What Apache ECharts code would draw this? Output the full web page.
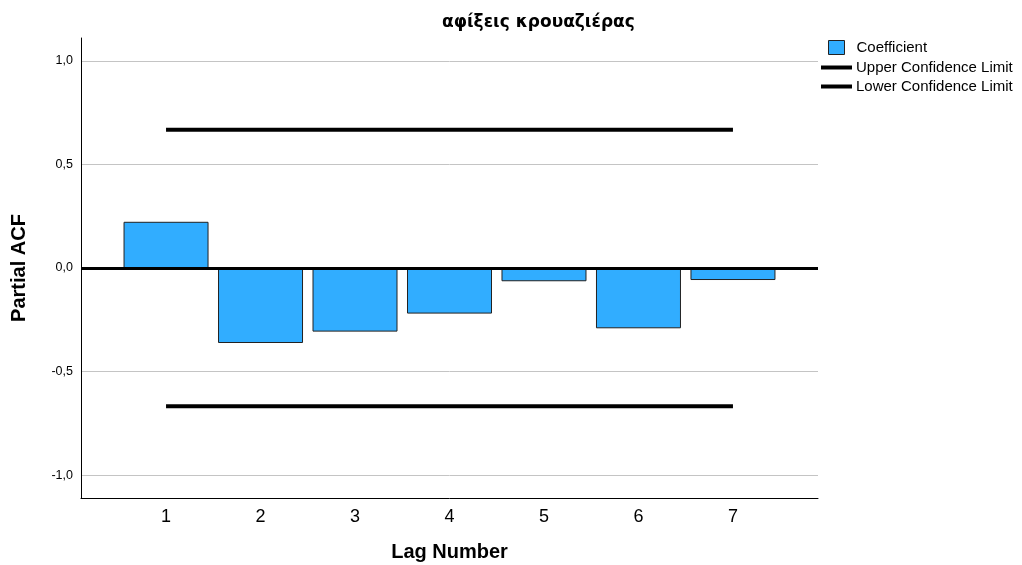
<!DOCTYPE html>
<html>
<head>
<meta charset="utf-8">
<script src="https://cdn.jsdelivr.net/npm/echarts@6/dist/echarts.min.js"></script>
<style>
  html, body { margin: 0; padding: 0; background: #fff; }
  #chart { width: 1022px; height: 565px; }
</style>
</head>
<body>
<div id="chart"></div>
<script>
// lag numbers and partial autocorrelation coefficients
const lags = [1, 2, 3, 4, 5, 6, 7];
const coefficients = [0.223, -0.362, -0.307, -0.220, -0.064, -0.291, -0.058];
const upperLimit = [0.667, 0.667];
const lowerLimit = [-0.667, -0.667];
const limitLags = [1, 7];
const yTicks = [-1, -0.5, 0, 0.5, 1];

const chart = echarts.init(document.getElementById('chart'));
const font = '"Liberation Sans", Arial, sans-serif';

const option = {
  animation: false,
  title: {
    text: 'αφίξεις κρουαζιέρας',
    left: 442,
    top: 14,
    padding: 0,
    textStyle: { fontFamily: '"DejaVu Sans", sans-serif', fontSize: 17, fontWeight: 'bold', color: '#000' }
  },
  legend: [
    {
      data: [{ name: 'Coefficient', icon: 'rect' }],
      left: 828, top: 40, padding: 0,
      itemWidth: 16, itemHeight: 14,
      itemStyle: { borderColor: '#222', borderWidth: 1 },
      textStyle: { fontFamily: font, fontSize: 15, color: '#000', padding: [0, 0, 0, 7] }
    },
    {
      data: [{ name: 'Upper Confidence Limit', icon: 'rect' }],
      left: 821, top: 60, padding: 0,
      itemWidth: 31, itemHeight: 4,
      textStyle: { fontFamily: font, fontSize: 15, color: '#000', padding: [0, 0, 0, -1] }
    },
    {
      data: [{ name: 'Lower Confidence Limit', icon: 'rect' }],
      left: 821, top: 79, padding: 0,
      itemWidth: 31, itemHeight: 4,
      textStyle: { fontFamily: font, fontSize: 15, color: '#000', padding: [0, 0, 0, -1] }
    }
  ],
  grid: { left: 81, right: 204, top: 38, bottom: 67, outerBoundsMode: 'none' },
  xAxis: {
    type: 'value',
    min: 0.1,
    max: 7.9,
    name: 'Lag Number',
    nameLocation: 'middle',
    nameGap: 44,
    nameTextStyle: { fontFamily: font, fontSize: 20, fontWeight: 'bold', color: '#000' },
    axisLine: { onZero: false, lineStyle: { color: '#000', width: 1 } },
    axisTick: { show: false },
    splitLine: { show: false },
    axisLabel: {
      customValues: lags,
      fontFamily: font, fontSize: 18, color: '#000', margin: 10
    }
  },
  yAxis: {
    type: 'value',
    min: -1.11,
    max: 1.11,
    name: 'Partial ACF',
    nameLocation: 'middle',
    nameGap: 52,
    nameTextStyle: { fontFamily: font, fontSize: 20, fontWeight: 'bold', color: '#000' },
    axisLine: { show: true, lineStyle: { color: '#000', width: 1 } },
    axisTick: { show: false, customValues: yTicks },
    splitLine: { show: true, lineStyle: { color: '#c4c4c4', width: 1 } },
    axisLabel: {
      customValues: yTicks,
      fontFamily: font, fontSize: 12.5, color: '#000', margin: 8,
      formatter: v => v.toFixed(1).replace('.', ',')
    }
  },
  series: [
    {
      name: 'Coefficient',
      type: 'bar',
      barWidth: 85,
      data: lags.map((l, i) => [l, coefficients[i]]),
      itemStyle: { color: '#31adff', borderColor: '#222', borderWidth: 1 },
      markLine: {
        silent: true,
        symbol: 'none',
        label: { show: false },
        lineStyle: { color: '#000', width: 3, type: 'solid' },
        data: [{ yAxis: 0 }],
        z: 5
      }
    },
    {
      name: 'Upper Confidence Limit',
      type: 'line',
      symbol: 'none',
      data: limitLags.map((l, i) => [l, upperLimit[i]]),
      lineStyle: { color: '#000', width: 4, cap: 'butt' },
      itemStyle: { color: '#000' }
    },
    {
      name: 'Lower Confidence Limit',
      type: 'line',
      symbol: 'none',
      data: limitLags.map((l, i) => [l, lowerLimit[i]]),
      lineStyle: { color: '#000', width: 4, cap: 'butt' },
      itemStyle: { color: '#000' }
    }
  ]
};

chart.setOption(option);
</script>
</body>
</html>
